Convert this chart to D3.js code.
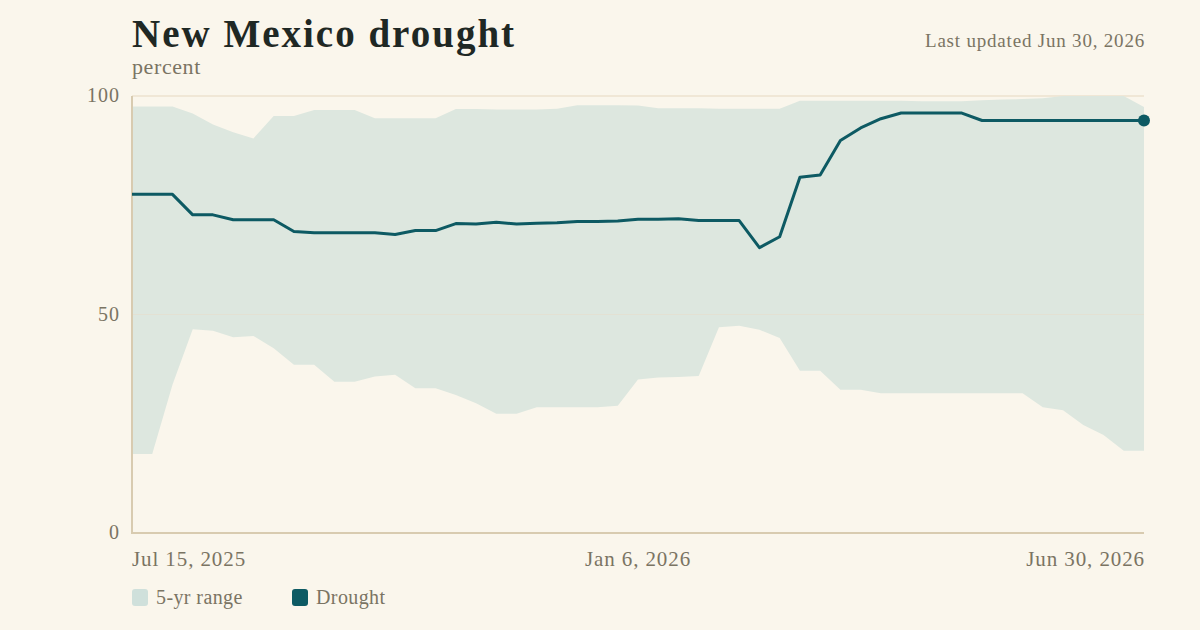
<!DOCTYPE html>
<html>
<head>
<meta charset="utf-8">
<script src="https://cdn.jsdelivr.net/npm/d3@7"></script>
<style>
  body { margin: 0; background: #faf6ec; }
  text { font-family: "Liberation Serif", "DejaVu Serif", serif; }
</style>
</head>
<body>
<div id="chart"></div>
<script>
// weekly readings, Jul 15 2025 .. Jun 30 2026
var startDate = "2025-07-15";
var drought = [77.5, 77.5, 77.5, 72.8, 72.8, 71.7, 71.7, 71.7, 69.0, 68.7,
  68.7, 68.7, 68.7, 68.3, 69.2, 69.2, 70.8, 70.7, 71.1, 70.7,
  70.9, 71.0, 71.3, 71.3, 71.4, 71.8, 71.8, 71.9, 71.5, 71.5,
  71.5, 65.3, 67.8, 81.4, 81.9, 89.8, 92.7, 94.8, 96.1, 96.1,
  96.1, 96.1, 94.4, 94.4, 94.4, 94.4, 94.4, 94.4, 94.4, 94.4, 94.4];
var rangeHigh = [97.6, 97.6, 97.6, 96.0, 93.5, 91.7, 90.3, 95.4, 95.4, 96.8,
  96.8, 96.8, 94.9, 94.9, 94.9, 94.9, 97.0, 97.0, 96.9, 96.9,
  96.9, 97.1, 97.9, 97.9, 97.9, 97.8, 97.2, 97.2, 97.2, 97.1,
  97.1, 97.1, 97.1, 98.9, 98.9, 98.9, 98.9, 98.9, 98.9, 98.8,
  98.8, 98.8, 99.0, 99.2, 99.3, 99.5, 100, 100, 100, 100, 97.5];
var rangeLow = [18.1, 18.1, 33.9, 46.6, 46.3, 44.8, 45.1, 42.3, 38.5, 38.5,
  34.6, 34.6, 35.8, 36.2, 33.1, 33.1, 31.6, 29.7, 27.3, 27.3,
  28.8, 28.8, 28.8, 28.8, 29.1, 35.1, 35.6, 35.7, 35.9, 47.1,
  47.4, 46.5, 44.6, 37.1, 37.1, 32.8, 32.8, 32.0, 32.0, 32.0,
  32.0, 32.0, 32.0, 32.0, 32.0, 28.8, 28.1, 24.7, 22.4, 18.8, 18.8];
var yTicks = [0, 50, 100];
var xTickDates = ["2025-07-15", "2026-01-06", "2026-06-30"];
var legendItems = ["5-yr range", "Drought"];

var W = 1200, H = 630;
var m = {top: 96, right: 56, bottom: 97, left: 132};

var parse = d3.utcParse("%Y-%m-%d");
var fmt = d3.utcFormat("%b %-d, %Y");
var t0 = parse(startDate);
var data = drought.map(function (v, i) {
  return {date: d3.utcWeek.offset(t0, i), v: v, hi: rangeHigh[i], lo: rangeLow[i]};
});

var svg = d3.select("#chart").append("svg")
  .attr("width", W).attr("height", H)
  .style("background", "#faf6ec");

var x = d3.scaleUtc()
  .domain(d3.extent(data, function (d) { return d.date; }))
  .range([m.left, W - m.right]);
var y = d3.scaleLinear().domain([0, 100]).range([H - m.bottom, m.top]);

// top gridline
svg.append("line")
  .attr("x1", m.left).attr("x2", W - m.right)
  .attr("y1", y(100)).attr("y2", y(100))
  .attr("stroke", "#ece2cf").attr("stroke-width", 1.5);

// 5-yr band
svg.append("path").datum(data)
  .attr("fill", "#dde7df")
  .attr("d", d3.area()
    .x(function (d) { return x(d.date); })
    .y0(function (d) { return y(d.lo); })
    .y1(function (d) { return y(d.hi); }));

// middle gridline, faint over the band
svg.append("line")
  .attr("x1", m.left).attr("x2", W - m.right)
  .attr("y1", y(50)).attr("y2", y(50))
  .attr("stroke", "#e3e1d3").attr("stroke-width", 1);

// axis lines
svg.append("line")
  .attr("x1", m.left).attr("x2", m.left)
  .attr("y1", m.top).attr("y2", H - m.bottom)
  .attr("stroke", "#d8cbb0").attr("stroke-width", 2);
svg.append("line")
  .attr("x1", m.left - 1).attr("x2", W - m.right)
  .attr("y1", H - m.bottom).attr("y2", H - m.bottom)
  .attr("stroke", "#d8cbb0").attr("stroke-width", 2);

// drought line
svg.append("path").datum(data)
  .attr("fill", "none")
  .attr("stroke", "#0d5a63")
  .attr("stroke-width", 3)
  .attr("stroke-linejoin", "round")
  .attr("d", d3.line()
    .x(function (d) { return x(d.date); })
    .y(function (d) { return y(d.v); }));

var last = data[data.length - 1];
svg.append("circle")
  .attr("cx", x(last.date)).attr("cy", y(last.v)).attr("r", 6)
  .attr("fill", "#0d5a63");

// y tick labels
svg.append("g").selectAll("text")
  .data(yTicks).enter().append("text")
  .attr("x", m.left - 12)
  .attr("y", function (d) { return y(d) + 6; })
  .attr("text-anchor", "end")
  .attr("font-size", 20).attr("letter-spacing", 1).attr("fill", "#7a7463")
  .text(function (d) { return d; });

// x tick labels
svg.append("g").selectAll("text")
  .data(xTickDates).enter().append("text")
  .attr("x", function (d, i) { return x(parse(d)) + (i === xTickDates.length - 1 ? 1 : 0); })
  .attr("y", H - m.bottom + 33)
  .attr("text-anchor", function (d, i) { return i === 0 ? "start" : i === xTickDates.length - 1 ? "end" : "middle"; })
  .attr("font-size", 21).attr("letter-spacing", 0.9).attr("fill", "#7a7463")
  .text(function (d) { return fmt(parse(d)); });

// titles
svg.append("text")
  .attr("x", m.left).attr("y", 47)
  .attr("font-size", 39).attr("font-weight", "bold").attr("letter-spacing", 2)
  .attr("fill", "#1f2824")
  .text("New Mexico drought");
svg.append("text")
  .attr("x", m.left).attr("y", 74)
  .attr("font-size", 22).attr("letter-spacing", 0.6).attr("fill", "#7a7463")
  .text("percent");
svg.append("text")
  .attr("x", W - m.right + 1).attr("y", 47)
  .attr("text-anchor", "end")
  .attr("font-size", 19).attr("letter-spacing", 0.8).attr("fill", "#7a7463")
  .text("Last updated " + fmt(last.date));

// legend
var swatch = ["#cfe0db", "#0d5a63"];
var lg = svg.append("g").selectAll("g")
  .data(legendItems).enter().append("g")
  .attr("transform", function (d, i) { return "translate(" + (m.left + i * 160) + ",589)"; });
lg.append("rect")
  .attr("width", 16).attr("height", 17).attr("rx", 3)
  .attr("fill", function (d, i) { return swatch[i]; });
lg.append("text")
  .attr("x", 24).attr("y", 15)
  .attr("font-size", 20).attr("letter-spacing", 0.4).attr("fill", "#7a7463")
  .text(function (d) { return d; });
</script>
</body>
</html>
